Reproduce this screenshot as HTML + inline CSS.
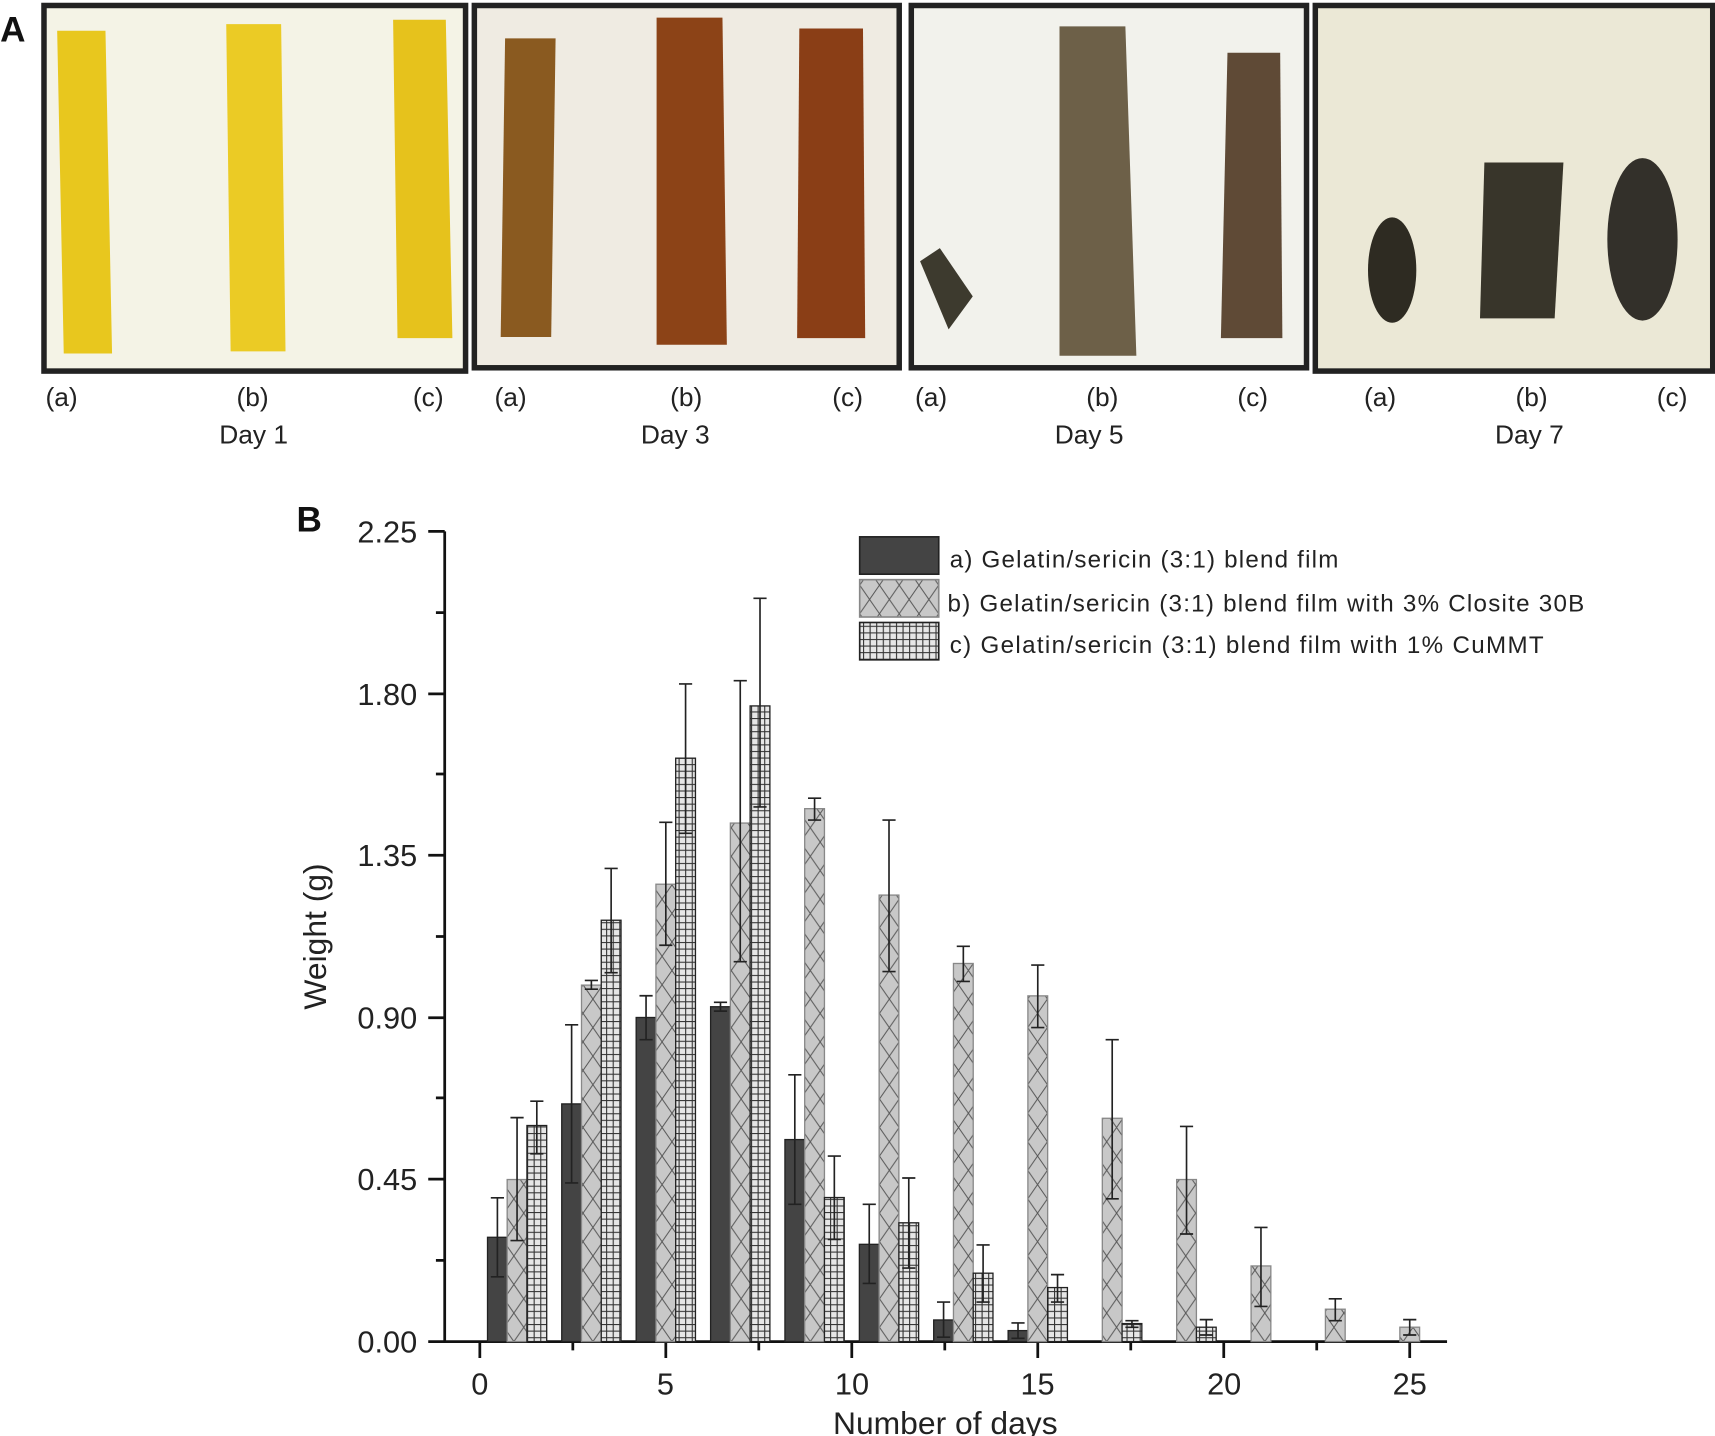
<!DOCTYPE html>
<html><head><meta charset="utf-8"><style>
html,body{margin:0;padding:0;background:#fff}
svg{display:block}
text{font-family:"Liberation Sans",sans-serif;fill:#222}
</style></head><body>
<svg width="1715" height="1436" viewBox="0 0 1562 1308" xmlns="http://www.w3.org/2000/svg">
<defs>
<pattern id="px" patternUnits="userSpaceOnUse" width="18" height="26"><rect width="18" height="26" fill="#c8c8c8"/><path d="M0,0L18,26M18,0L0,26" stroke="#555" stroke-width="0.9"/></pattern>
<pattern id="pg" patternUnits="userSpaceOnUse" width="6" height="6"><rect width="6" height="6" fill="#e6e6e6"/><path d="M0,0.5H6M0.5,0V6" stroke="#333" stroke-width="1"/></pattern>
</defs>
<!-- Panel A -->
<text x="0" y="38" font-size="32" font-weight="bold" style="fill:#111">A</text>
<rect x="40" y="5" width="384" height="333" fill="#f4f3e6" stroke="#222" stroke-width="5"/>
<path d="M52,28h44l6,294h-44z" fill="#e8c71e"/>
<path d="M206,22h50l4,298h-50z" fill="#ebcb25"/>
<path d="M358,18h48l6,290h-50z" fill="#e6c21c"/>
<rect x="432" y="5" width="387" height="330" fill="#efebe2" stroke="#222" stroke-width="5"/>
<path d="M460,35h46l-4,272h-46z" fill="#8a5a20"/>
<path d="M598,16h60l4,298h-64z" fill="#8c4317"/>
<path d="M728,26h58l2,282h-62z" fill="#8a3e16"/>
<rect x="830" y="5" width="360" height="330" fill="#f2f2ec" stroke="#222" stroke-width="5"/>
<path d="M838,238l18,-12l30,44l-22,30z" fill="#3d3a2e"/>
<path d="M965,24h60l10,300h-70z" fill="#6d6048"/>
<path d="M1118,48h48l2,260h-56z" fill="#5f4a36"/>
<rect x="1198" y="5" width="362" height="333" fill="#ebe8d6" stroke="#222" stroke-width="5"/>
<ellipse cx="1268" cy="246" rx="22" ry="48" fill="#2e2b22"/>
<path d="M1352,148h72l-8,142h-68z" fill="#38352a"/>
<ellipse cx="1496" cy="218" rx="32" ry="74" fill="#33302a"/>
<g font-size="24" text-anchor="middle">
<text x="56" y="370">(a)</text><text x="230" y="370">(b)</text><text x="390" y="370">(c)</text><text x="231" y="404">Day 1</text>
<text x="465" y="370">(a)</text><text x="625" y="370">(b)</text><text x="772" y="370">(c)</text><text x="615" y="404">Day 3</text>
<text x="848" y="370">(a)</text><text x="1004" y="370">(b)</text><text x="1141" y="370">(c)</text><text x="992" y="404">Day 5</text>
<text x="1257" y="370">(a)</text><text x="1395" y="370">(b)</text><text x="1523" y="370">(c)</text><text x="1393" y="404">Day 7</text>
</g>
<!-- Panel B -->
<text x="270" y="484" font-size="32" font-weight="bold" style="fill:#111">B</text>
<g stroke="#111" stroke-width="2.5" fill="none">
<path d="M405,484V1222H1318"/>
<path d="M390,484H405M390,632H405M390,779H405M390,927H405M390,1074H405M390,1222H405"/>
<path d="M397,558H405M397,705H405M397,853H405M397,1000H405M397,1148H405"/>
<path d="M437,1222V1237M606.4,1222V1237M775.8,1222V1237M945.2,1222V1237M1114.6,1222V1237M1284,1222V1237"/>
<path d="M521.7,1222V1230M691.1,1222V1230M860.5,1222V1230M1029.9,1222V1230M1199.3,1222V1230"/>
</g>
<g font-size="28" text-anchor="end">
<text x="380" y="494">2.25</text><text x="380" y="642">1.80</text><text x="380" y="789">1.35</text><text x="380" y="937">0.90</text><text x="380" y="1084">0.45</text><text x="380" y="1232">0.00</text>
</g>
<g font-size="28" text-anchor="middle">
<text x="437" y="1270">0</text><text x="606" y="1270">5</text><text x="776" y="1270">10</text><text x="945" y="1270">15</text><text x="1115" y="1270">20</text><text x="1284" y="1270">25</text>
<text x="861" y="1306" font-size="29">Number of days</text>
<text transform="translate(297,853) rotate(-90)" font-size="29">Weight (g)</text>
</g>
<!-- bars a -->
<g fill="#444" stroke="#222" stroke-width="1.2">
<rect x="444" y="1127" width="18" height="95"/>
<rect x="511.6" y="1005.5" width="18" height="216.5"/>
<rect x="579.4" y="926.8" width="18" height="295.2"/>
<rect x="647.2" y="917" width="18" height="305"/>
<rect x="714.9" y="1038" width="18" height="184"/>
<rect x="782.7" y="1133.4" width="18" height="88.6"/>
<rect x="850.4" y="1202.3" width="18" height="19.7"/>
<rect x="918.2" y="1212" width="18" height="10"/>
</g>
<!-- bars b -->
<g fill="url(#px)" stroke="#888" stroke-width="1.2">
<rect x="461.9" y="1074.4" width="18" height="147.6"/>
<rect x="529.6" y="897.3" width="18" height="324.7"/>
<rect x="597.4" y="805.4" width="18" height="416.6"/>
<rect x="665.2" y="749.7" width="18" height="472.3"/>
<rect x="732.9" y="736.6" width="18" height="485.4"/>
<rect x="800.7" y="815.3" width="18" height="406.7"/>
<rect x="868.4" y="877.6" width="18" height="344.4"/>
<rect x="936.2" y="907.1" width="18" height="314.9"/>
<rect x="1004" y="1018.6" width="18" height="203.4"/>
<rect x="1071.7" y="1074.4" width="18" height="147.6"/>
<rect x="1139.5" y="1153.1" width="18" height="68.9"/>
<rect x="1207.2" y="1192.5" width="18" height="29.5"/>
<rect x="1275" y="1208.9" width="18" height="13.1"/>
</g>
<!-- bars c -->
<g fill="url(#pg)" stroke="#222" stroke-width="1.2">
<rect x="479.9" y="1025.2" width="18" height="196.8"/>
<rect x="547.6" y="838.2" width="18" height="383.8"/>
<rect x="615.4" y="690.6" width="18" height="531.4"/>
<rect x="683.2" y="643" width="18" height="579"/>
<rect x="750.9" y="1090.8" width="18" height="131.2"/>
<rect x="818.7" y="1113.8" width="18" height="108.2"/>
<rect x="886.4" y="1159.7" width="18" height="62.3"/>
<rect x="954.2" y="1172.8" width="18" height="49.2"/>
<rect x="1022" y="1205.6" width="18" height="16.4"/>
<rect x="1089.7" y="1208.9" width="18" height="13.1"/>
</g>
<!-- error bars -->
<g stroke="#222" stroke-width="1.5" fill="none">
<path d="M453,1091V1163M447,1091H459M447,1163H459"/>
<path d="M520.6,933.5V1077.5M514.6,933.5H526.6M514.6,1077.5H526.6"/>
<path d="M588.4,907V947M582.4,907H594.4M582.4,947H594.4"/>
<path d="M656.2,913V921M650.2,913H662.2M650.2,921H662.2"/>
<path d="M723.9,979V1097M717.9,979H729.9M717.9,1097H729.9"/>
<path d="M791.7,1097V1169M785.7,1097H797.7M785.7,1169H797.7"/>
<path d="M859.4,1186V1218M853.4,1186H865.4M853.4,1218H865.4"/>
<path d="M927.2,1205V1219M921.2,1205H933.2M921.2,1219H933.2"/>
<path d="M470.9,1018V1130M464.9,1018H476.9M464.9,1130H476.9"/>
<path d="M538.6,893V901M532.6,893H544.6M532.6,901H544.6"/>
<path d="M606.4,749V861M600.4,749H612.4M600.4,861H612.4"/>
<path d="M674.2,620V876M668.2,620H680.2M668.2,876H680.2"/>
<path d="M741.9,727V747M735.9,727H747.9M735.9,747H747.9"/>
<path d="M809.7,747V885M803.7,747H815.7M803.7,885H815.7"/>
<path d="M877.4,862V894M871.4,862H883.4M871.4,894H883.4"/>
<path d="M945.2,879V936M939.2,879H951.2M939.2,936H951.2"/>
<path d="M1013,947V1092M1007,947H1019M1007,1092H1019"/>
<path d="M1080.7,1026V1124M1074.7,1026H1086.7M1074.7,1124H1086.7"/>
<path d="M1148.5,1118V1190M1142.5,1118H1154.5M1142.5,1190H1154.5"/>
<path d="M1216.2,1183V1203M1210.2,1183H1222.2M1210.2,1203H1222.2"/>
<path d="M1284,1202V1216M1278,1202H1290M1278,1216H1290"/>
<path d="M488.9,1003V1051M482.9,1003H494.9M482.9,1051H494.9"/>
<path d="M556.6,791V886M550.6,791H562.6M550.6,886H562.6"/>
<path d="M624.4,623V759M618.4,623H630.4M618.4,759H630.4"/>
<path d="M692.2,545V735M686.2,545H698.2M686.2,735H698.2"/>
<path d="M759.9,1053V1129M753.9,1053H765.9M753.9,1129H765.9"/>
<path d="M827.7,1073V1155M821.7,1073H833.7M821.7,1155H833.7"/>
<path d="M895.4,1134V1186M889.4,1134H901.4M889.4,1186H901.4"/>
<path d="M963.2,1161V1186M957.2,1161H969.2M957.2,1186H969.2"/>
<path d="M1031,1203V1209M1025,1203H1037M1025,1209H1037"/>
<path d="M1098.7,1202V1216M1092.7,1202H1104.7M1092.7,1216H1104.7"/>
</g>
<!-- legend -->
<rect x="783" y="489" width="72" height="34" fill="#444" stroke="#222" stroke-width="1.5"/>
<rect x="783" y="528" width="72" height="34" fill="url(#px)" stroke="#888" stroke-width="1.5"/>
<rect x="783" y="567" width="72" height="34" fill="url(#pg)" stroke="#222" stroke-width="1.5"/>
<g font-size="22">
<text x="865" y="517" textLength="354" lengthAdjust="spacing">a) Gelatin/sericin (3:1) blend film</text>
<text x="863" y="557" textLength="580" lengthAdjust="spacing">b) Gelatin/sericin (3:1) blend film with 3% Closite 30B</text>
<text x="865" y="595" textLength="541" lengthAdjust="spacing">c) Gelatin/sericin (3:1) blend film with 1% CuMMT</text>
</g>
</svg>
</body></html>
